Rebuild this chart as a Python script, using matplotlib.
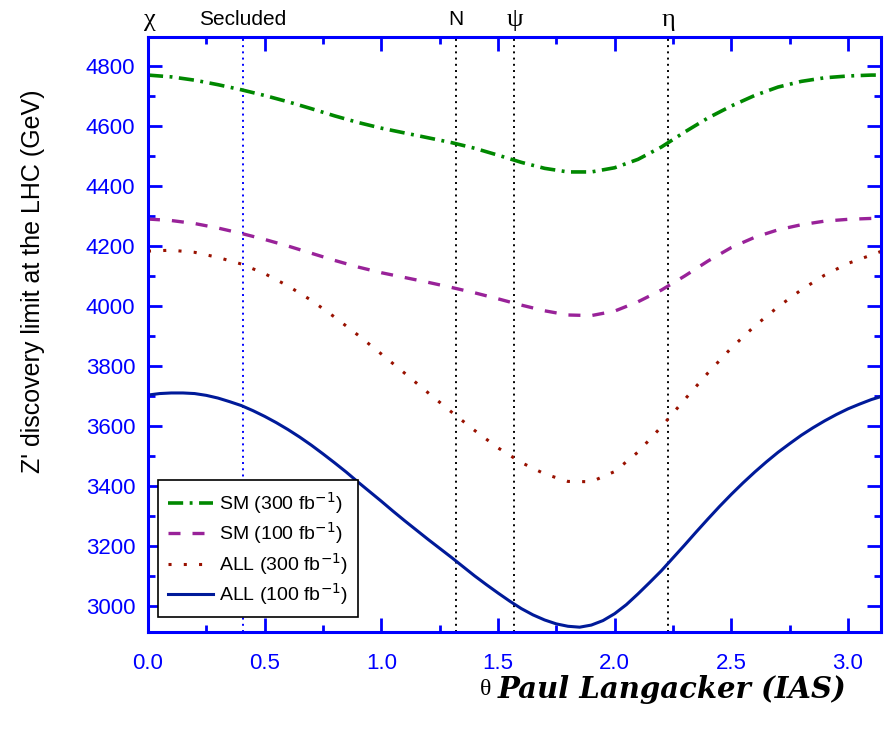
import numpy as np
import matplotlib

matplotlib.use("Agg")
import matplotlib.pyplot as plt
from matplotlib.ticker import MultipleLocator, FormatStrFormatter

plt.rcParams["font.family"] = ["Liberation Sans", "DejaVu Sans"]

theta = [0.0, 0.1, 0.2, 0.3, 0.4, 0.5, 0.6, 0.7, 0.8, 0.9, 1.0, 1.1, 1.2, 1.3, 1.4, 1.5,
         1.6, 1.7, 1.8, 1.9, 2.0, 2.1, 2.2, 2.3, 2.4, 2.5, 2.6, 2.7, 2.8, 2.9, 3.0, 3.1, np.pi]

sm_300 = [4770, 4764, 4753, 4738, 4721, 4702, 4681, 4658, 4634, 4612, 4593, 4577, 4561, 4545,
          4526, 4503, 4479, 4459, 4447, 4447, 4461, 4489, 4530, 4580, 4627, 4667, 4702, 4730,
          4749, 4761, 4767, 4770, 4770]
sm_100 = [4290, 4285, 4275, 4260, 4242, 4222, 4200, 4176, 4152, 4130, 4111, 4095, 4079, 4062,
          4044, 4024, 4003, 3984, 3970, 3968, 3983, 4014, 4053, 4100, 4150, 4195, 4229, 4254,
          4271, 4283, 4289, 4292, 4292]
all_300 = [4183, 4186, 4179, 4162, 4140, 4108, 4067, 4019, 3963, 3903, 3840, 3776, 3711, 3647,
           3585, 3527, 3478, 3440, 3415, 3414, 3448, 3513, 3597, 3688, 3777, 3860, 3933, 3997,
           4054, 4103, 4142, 4170, 4182]

# the solid curve was read on a finer grid
theta_fine = [0.0, 0.05, 0.1, 0.15, 0.2, 0.25, 0.3, 0.35, 0.4, 0.45, 0.5, 0.55, 0.6, 0.65,
              0.7, 0.75, 0.8, 0.85, 0.9, 0.95, 1.0, 1.05, 1.1, 1.15, 1.2, 1.25, 1.3, 1.35,
              1.4, 1.45, 1.5, 1.55, 1.6, 1.65, 1.7, 1.75, 1.8, 1.85, 1.9, 1.95, 2.0, 2.05,
              2.1, 2.15, 2.2, 2.25, 2.3, 2.35, 2.4, 2.45, 2.5, 2.55, 2.6, 2.65, 2.7, 2.75,
              2.8, 2.85, 2.9, 2.95, 3.0, 3.05, 3.1, np.pi]
all_100 = [3703, 3708, 3710, 3710, 3708, 3702, 3693, 3681, 3668, 3651, 3632, 3611, 3588, 3563,
           3536, 3507, 3477, 3446, 3413, 3381, 3349, 3316, 3284, 3253, 3222, 3192, 3162, 3131,
           3100, 3071, 3043, 3016, 2991, 2970, 2953, 2940, 2932, 2929, 2936, 2951, 2974, 3004,
           3040, 3078, 3117, 3160, 3203, 3247, 3290, 3332, 3372, 3410, 3446, 3480, 3512, 3541,
           3569, 3594, 3617, 3638, 3657, 3673, 3688, 3698]

# E6 model angles
model_names = ["Secluded", "N", "ψ", "η"]
model_theta = [np.arctan(np.sqrt(15) / 9), np.arctan(np.sqrt(15)), np.pi / 2,
               np.pi - np.arctan(np.sqrt(5 / 3))]

BLUE = "#0000ff"
SERIF = ["Liberation Serif", "DejaVu Serif"]

fig = plt.figure(figsize=(8.94, 7.34), dpi=100)
ax = fig.add_axes([0.1655, 0.139, 0.82, 0.8106])

ax.plot(theta, sm_300, color="#008800", lw=2.6, dashes=(4.2, 1.8, 0.8, 1.8),
        label="SM (300 fb$^{-1}$)")
ax.plot(theta, sm_100, color="#992299", lw=2.4, dashes=(3.6, 3.6), label="SM (100 fb$^{-1}$)")
ax.plot(theta, all_300, color="#991100", lw=2.2, dashes=(1, 4), label="ALL (300 fb$^{-1}$)")
ax.plot(theta_fine, all_100, color="#001a99", lw=2.2, label="ALL (100 fb$^{-1}$)")

for name, t in zip(model_names, model_theta):
    c = BLUE if name == "Secluded" else "black"
    ax.axvline(t, color=c, lw=1.4, ls=(0, (1, 2.2)), zorder=1)
    if name in ("ψ", "η"):
        ax.text(t, 4918, name, ha="center", va="bottom", fontsize=19, color="black", family=SERIF)
    else:
        ax.text(t, 4922, name, ha="center", va="bottom", fontsize=15, color="black")
ax.text(0.01, 4918, "χ", ha="center", va="bottom", fontsize=19, color="black", family=SERIF)

ax.set_xlim(0, np.pi)
ax.set_ylim(2913, 4897)
ax.xaxis.set_major_locator(MultipleLocator(0.5))
ax.xaxis.set_minor_locator(MultipleLocator(0.25))
ax.yaxis.set_major_locator(MultipleLocator(200))
ax.yaxis.set_minor_locator(MultipleLocator(100))
ax.xaxis.set_major_formatter(FormatStrFormatter("%.1f"))

ax.tick_params(which="both", direction="in", top=True, right=True, color=BLUE,
               labelcolor=BLUE, labelsize=16, width=2)
ax.tick_params(which="major", length=10)
ax.tick_params(which="minor", length=5)
ax.tick_params(axis="x", pad=15)
ax.tick_params(axis="y", pad=9)
for sp in ax.spines.values():
    sp.set_color(BLUE)
    sp.set_linewidth(2.2)

fig.text(0.037, 0.617, "Z' discovery limit at the LHC (GeV)", fontsize=18, rotation=90,
         ha="center", va="center")

fig.text(0.543, 0.06, "θ", fontsize=17, ha="center", va="center", family=SERIF)
fig.text(0.752, 0.06, "Paul Langacker (IAS)", fontsize=21, ha="center", va="center",
         family="DejaVu Serif", style="italic", weight="bold")

leg = ax.legend(loc="lower left", bbox_to_anchor=(0.014, 0.025), fontsize=14, frameon=True,
                fancybox=False, framealpha=1, edgecolor="black", handlelength=2.3,
                borderpad=0.5, labelspacing=0.24, handletextpad=0.35, borderaxespad=0)
leg.get_frame().set_linewidth(1.2)

fig.savefig("out.png", dpi=100)
